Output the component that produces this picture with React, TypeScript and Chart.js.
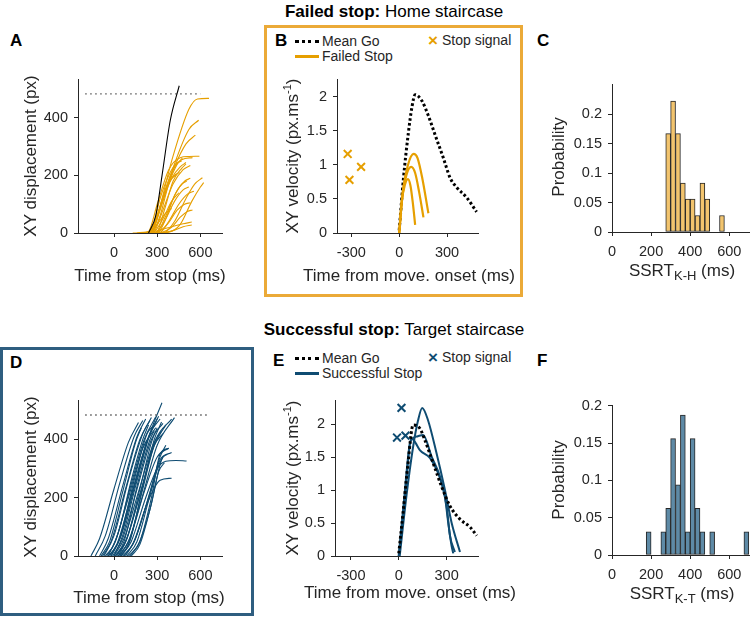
import React, { useEffect, useRef } from "react";
import { Chart, registerables } from "chart.js";
Chart.register(...registerables);

const FONT = "'Liberation Sans', Arial, Helvetica, sans-serif";
const INK = "#262626";
const ORANGE = "#E69F00";
const BLUE = "#0F4C72";
const ORANGE_BOX = "#EBAA38";
const BLUE_BOX = "#2F5E80";
const ORANGE_BAR = "#F2C46E";
const BLUE_BAR = "#5E8AA6";

// ---------- tick labels ----------
const dispXTicks = [0, 300, 600];
const dispYTicks = [0, 200, 400];
const velXTicks = [-300, 0, 300];
const velYTicks = [0, 0.5, 1, 1.5, 2];
const ssrtXTicks = [0, 200, 400, 600];
const probYTicks = [0, 0.05, 0.1, 0.15, 0.2];

// ---------- Panel A: failed stop displacement (time ms, px) ----------
const aTargetLine = [[-200, 484], [600, 484]];
const aGoTrace = [[240, 0], [290, 60], [333, 198], [391, 392], [453, 512]];
const aFailedTraces = [
  [[180, 0], [240, 2], [300, 60], [400, 250], [520, 430], [580, 466], [660, 468]],
  [[200, 0], [260, 5], [320, 80], [420, 240], [520, 360], [588, 392]],
  [[220, 0], [250, 3], [320, 90], [420, 230], [500, 310], [565, 340]],
  [[210, 0], [240, 5], [300, 100], [380, 220], [460, 262], [520, 266], [593, 267]],
  [[230, 0], [270, 10], [330, 110], [400, 210], [470, 255], [545, 262]],
  [[300, 0], [350, 2], [420, 40], [500, 120], [560, 170], [614, 192]],
  [[300, 0], [380, 3], [460, 30], [540, 110], [600, 160], [623, 175]],
  [[220, 0], [260, 8], [320, 120], [380, 200], [430, 240], [470, 250]],
  [[240, 0], [270, 8], [330, 100], [400, 190], [460, 230], [500, 245]],
  [[250, 0], [280, 6], [340, 80], [410, 170], [480, 220], [530, 235]],
  [[200, 0], [250, 6], [300, 60], [360, 150], [420, 200], [455, 210]],
  [[260, 0], [300, 4], [360, 60], [430, 140], [490, 180], [530, 190]],
  [[260, 0], [290, 2], [350, 40], [420, 110], [480, 150], [520, 160]],
  [[280, 0], [320, 2], [380, 40], [450, 100], [510, 135], [555, 145]],
  [[270, 0], [300, 2], [370, 30], [440, 80], [490, 100], [530, 105]],
  [[300, 0], [330, 2], [400, 20], [460, 55], [510, 75], [545, 80]],
  [[130, 0], [250, 3], [300, 30], [360, 70], [400, 85]],
  [[160, 0], [300, 8], [400, 22], [480, 32], [540, 38]],
  [[320, 0], [350, 2], [420, 10], [480, 22], [540, 28]],
  [[270, 0], [310, 4], [360, 50], [420, 130], [470, 170], [505, 180]],
  [[250, 0], [280, 4], [340, 50], [400, 110], [450, 140]],
  [[200, 0], [240, 4], [290, 40], [350, 140], [400, 190], [430, 200]],
  [[230, 0], [270, 5], [320, 60], [380, 170], [440, 240], [475, 260]],
  [[260, 0], [300, 6], [350, 80], [410, 180], [470, 225], [500, 240]],
];

// ---------- Panel B: failed stop velocity (ms, px/ms) ----------
const bMeanGo = [[0, 0.04], [27, 0.81], [58, 1.48], [80, 1.85], [100, 2.03], [142, 1.94], [183, 1.72], [225, 1.44], [277, 1.1], [319, 0.81], [360, 0.67], [423, 0.52], [485, 0.31]];
const bFailed1 = [[0, 0], [15, 0.45], [35, 0.7], [55, 0.79], [70, 0.7], [85, 0.45], [100, 0.12]];
const bFailed2 = [[0, 0], [20, 0.55], [45, 0.85], [75, 0.97], [100, 0.88], [125, 0.6], [152, 0.23]];
const bFailed3 = [[0, 0], [25, 0.65], [55, 1.0], [90, 1.16], [115, 1.1], [145, 0.8], [183, 0.29]];
const bStopSignals = [[-323, 1.16], [-312, 0.78], [-239, 0.97]];

// ---------- Panel C: SSRT K-H histogram (bin centre ms, probability) ----------
const cBinCentres = [287.5, 312.5, 337.5, 362.5, 387.5, 412.5, 437.5, 462.5, 487.5, 562.5];
const cProbs = [0.167, 0.222, 0.167, 0.083, 0.056, 0.056, 0.028, 0.083, 0.056, 0.028];

// ---------- Panel D: successful stop displacement ----------
const dTargetLine = [[-200, 484], [660, 484]];
const dSuccessTraces = [
  [[-160, 0], [-100, 60], [0, 230], [100, 390], [170, 458]],
  [[-130, 0], [-60, 70], [40, 250], [140, 410], [200, 465]],
  [[-100, 0], [-40, 60], [60, 240], [160, 410], [220, 470]],
  [[-80, 0], [-20, 50], [80, 230], [180, 400], [250, 465]],
  [[-70, 0], [0, 70], [100, 260], [200, 420], [260, 475]],
  [[-50, 0], [10, 50], [110, 230], [210, 400], [290, 478]],
  [[-40, 0], [20, 40], [120, 210], [220, 380], [300, 470]],
  [[-30, 0], [40, 60], [140, 240], [240, 410], [310, 480]],
  [[-20, 0], [50, 70], [150, 250], [250, 420], [320, 470]],
  [[-10, 0], [60, 60], [160, 230], [260, 400], [340, 455]],
  [[0, 0], [70, 60], [170, 220], [270, 380], [330, 430]],
  [[10, 0], [80, 50], [180, 210], [280, 380], [360, 450]],
  [[20, 0], [90, 60], [190, 230], [290, 400], [400, 470]],
  [[30, 0], [100, 50], [200, 210], [300, 380], [420, 475]],
  [[40, 0], [110, 60], [210, 220], [300, 340], [380, 370]],
  [[50, 0], [120, 50], [220, 200], [300, 300], [360, 325], [430, 328], [504, 326]],
  [[60, 0], [130, 40], [230, 180], [320, 260], [400, 267]],
  [[70, 0], [140, 50], [240, 200], [320, 330], [400, 355]],
  [[80, 0], [150, 60], [250, 220], [320, 340], [360, 380]],
  [[90, 0], [160, 50], [240, 190], [310, 310], [340, 340]],
  [[100, 0], [170, 40], [250, 160], [310, 290], [350, 320]],
  [[110, 0], [180, 50], [260, 200], [320, 350], [380, 370]],
  [[-60, 0], [0, 40], [100, 200], [200, 370], [290, 440]],
  [[0, 0], [60, 70], [150, 240], [250, 420], [333, 526]],
  [[30, 0], [90, 60], [180, 230], [260, 390], [300, 440]],
  [[-20, 0], [40, 60], [140, 260], [230, 420], [270, 445]],
  [[-90, 0], [-30, 50], [60, 220], [150, 390], [190, 440]],
  [[10, 0], [70, 50], [170, 260], [250, 400], [280, 430]],
  [[50, 0], [110, 50], [200, 240], [280, 400], [330, 460]],
  [[120, 0], [180, 40], [260, 180], [330, 330], [370, 350]],
  [[40, 0], [100, 40], [200, 230], [280, 380], [340, 420]],
  [[-40, 0], [30, 80], [120, 260], [200, 400], [240, 450]],
];

// ---------- Panel E: successful stop velocity ----------
const eMeanGo = [[0, 0.04], [27, 0.66], [58, 1.41], [90, 1.99], [132, 1.94], [164, 1.76], [216, 1.41], [268, 1.06], [321, 0.76], [384, 0.56], [447, 0.44], [489, 0.31]];
const eSuccess1 = [[6, 0], [48, 0.91], [90, 1.66], [120, 2.05], [147, 2.25], [184, 2.06], [237, 1.56], [289, 1.01], [331, 0.51], [384, 0.06]];
const eSuccess2 = [[0, 0], [35, 0.9], [69, 1.7], [95, 1.8], [120, 1.82], [153, 1.84], [206, 1.51], [258, 1.21], [300, 0.76], [321, 0.31], [352, 0.06]];
const eSuccess3 = [[0, 0], [40, 0.95], [80, 1.79], [105, 1.72], [132, 1.61], [195, 1.49], [247, 1.26], [289, 0.91], [310, 0.51], [331, 0.16], [342, 0.04]];
const eStopSignals = [[17, 2.25], [-11, 1.8], [42, 1.83]];

// ---------- Panel F: SSRT K-T histogram ----------
const fBinCentres = [187.5, 262.5, 287.5, 312.5, 337.5, 362.5, 387.5, 412.5, 437.5, 462.5, 512.5, 687.5];
const fProbs = [0.031, 0.031, 0.0625, 0.156, 0.094, 0.1875, 0.031, 0.156, 0.0625, 0.031, 0.031, 0.031];

// ---------- helpers ----------
const YW = 60;
const PT = 12;
const XH = 34;

const toXY = (pairs: number[][]) => pairs.map(([x, y]) => ({ x, y }));
const zipXY = (xs: number[], ys: number[]) => xs.map((x, i) => ({ x, y: ys[i] }));

function lineDs(pairs: number[][], color: string, width: number, extra: any = {}) {
  return {
    type: "line",
    data: toXY(pairs),
    borderColor: color,
    backgroundColor: color,
    borderWidth: width,
    pointRadius: 0,
    fill: false,
    cubicInterpolationMode: "monotone",
    ...extra,
  };
}

function markerDs(pairs: number[][], color: string) {
  return {
    type: "line",
    data: toXY(pairs),
    showLine: false,
    pointStyle: "crossRot",
    pointRadius: 5.5,
    pointBorderWidth: 2,
    borderColor: color,
    pointBorderColor: color,
    backgroundColor: color,
  };
}

function barDs(xs: number[], ys: number[], color: string) {
  return {
    type: "bar",
    data: zipXY(xs, ys),
    backgroundColor: color,
    borderColor: INK,
    borderWidth: 1,
    borderSkipped: false,
    barPercentage: 1,
    categoryPercentage: 1,
    grouped: false,
  };
}

function axis(dir: "x" | "y", min: number, max: number, ticks: number[], pad: number) {
  return {
    type: "linear",
    min,
    max,
    offset: false,
    afterBuildTicks: (ax: any) => {
      ax.ticks = ticks.map((v) => ({ value: v }));
    },
    afterFit: (ax: any) => {
      if (dir === "y") ax.width = YW;
      else ax.height = XH;
    },
    grid: { display: true, drawOnChartArea: false, drawTicks: true, tickLength: 4, color: INK, offset: false },
    border: { display: true, color: INK, width: 1 },
    ticks: {
      color: INK,
      font: { family: FONT, size: 14.5 },
      padding: pad,
      autoSkip: false,
      maxRotation: 0,
      minRotation: 0,
      callback: (v: any) => String(v),
    },
  };
}

type Geo = {
  x0: number; x1: number; yT: number; yB: number; padR: number;
  xMin: number; xMax: number; yMax: number; xTicks: number[]; yTicks: number[];
};

function Panel({ g, type, datasets }: { g: Geo; type: string; datasets: any[] }) {
  const ref = useRef<HTMLCanvasElement>(null);
  const W = Math.round(YW + (g.x1 - g.x0) + g.padR);
  const H = Math.round(PT + (g.yB - g.yT) + XH);
  useEffect(() => {
    const chart = new Chart(ref.current as any, {
      type: type as any,
      data: { datasets },
      options: {
        responsive: false,
        animation: false,
        events: [],
        layout: { padding: { top: PT, right: g.padR, left: 0, bottom: 0 } },
        plugins: { legend: { display: false }, tooltip: { enabled: false } },
        scales: {
          x: axis("x", g.xMin, g.xMax, g.xTicks, 7) as any,
          y: axis("y", 0, g.yMax, g.yTicks, 6) as any,
        },
      } as any,
    });
    return () => chart.destroy();
  }, []);
  return (
    <canvas
      ref={ref}
      width={W}
      height={H}
      style={{ position: "absolute", left: g.x0 - YW, top: g.yT - PT, width: W, height: H }}
    />
  );
}

function Label({ x, y, size = 17, rot = false, left = false, bold = false, color = INK, children }: any) {
  return (
    <div
      style={{
        position: "absolute",
        left: x,
        top: y,
        transform: `translate(${left ? "0" : "-50%"}, -50%)${rot ? " rotate(-90deg)" : ""}`,
        fontFamily: FONT,
        fontSize: size,
        fontWeight: bold ? 700 : 400,
        color,
        whiteSpace: "nowrap",
        lineHeight: 1,
      }}
    >
      {children}
    </div>
  );
}

const sup = { fontSize: 11, verticalAlign: "super", lineHeight: 0 } as any;
const sub = { fontSize: 13, verticalAlign: "sub", lineHeight: 0 } as any;

function Legend({ y, color, second }: { y: number; color: string; second: string }) {
  return (
    <>
      <div style={{ position: "absolute", left: 295, top: y - 1.5, width: 24, height: 0, borderTop: "3px dotted #000" }} />
      <Label x={322} y={y} size={14} left>Mean Go</Label>
      <div style={{ position: "absolute", left: 295, top: y + 14, width: 24, height: 2.5, background: color }} />
      <Label x={322} y={y + 15} size={14} left>{second}</Label>
      <Label x={428} y={y - 1} size={17} bold left color={color}>×</Label>
      <Label x={442} y={y - 1} size={14} left>Stop signal</Label>
    </>
  );
}

// ---------- geometry of each panel (page pixels) ----------
const geoA: Geo = { x0: 78, x1: 222, yT: 77, yB: 233, padR: 20, xMin: -250, xMax: 750, yMax: 533, xTicks: dispXTicks, yTicks: dispYTicks };
const geoD: Geo = { x0: 78, x1: 222, yT: 398, yB: 556, padR: 20, xMin: -250, xMax: 750, yMax: 533, xTicks: dispXTicks, yTicks: dispYTicks };
const geoB: Geo = { x0: 337, x1: 478, yT: 77, yB: 233, padR: 20, xMin: -390, xMax: 494, yMax: 2.25, xTicks: velXTicks, yTicks: velYTicks };
const geoE: Geo = { x0: 335, x1: 478, yT: 398, yB: 556, padR: 20, xMin: -400, xMax: 497, yMax: 2.36, xTicks: velXTicks, yTicks: velYTicks };
const geoC: Geo = { x0: 612, x1: 750, yT: 82, yB: 232, padR: 0, xMin: 0, xMax: 706, yMax: 0.25, xTicks: ssrtXTicks, yTicks: probYTicks };
const geoF: Geo = { x0: 612, x1: 750, yT: 403, yB: 555, padR: 0, xMin: 0, xMax: 706, yMax: 0.2, xTicks: ssrtXTicks, yTicks: probYTicks };

export default function App() {
  const dotted = { borderDash: [1.5, 3.5], cubicInterpolationMode: "default", tension: 0 };
  const goDots = { borderDash: [2.6, 2.4], borderCapStyle: "butt" };

  const dsA = [
    lineDs(aGoTrace, "#000", 1.1),
    lineDs(aTargetLine, "#555", 1.3, dotted),
    ...aFailedTraces.map((t) => lineDs(t, ORANGE, 1.1)),
  ];
  const dsB = [
    markerDs(bStopSignals, ORANGE),
    lineDs(bFailed1, ORANGE, 2.2),
    lineDs(bFailed2, ORANGE, 2.2),
    lineDs(bFailed3, ORANGE, 2.2),
    lineDs(bMeanGo, "#000", 3, goDots),
  ];
  const dsC = [barDs(cBinCentres, cProbs, ORANGE_BAR)];
  const dsD = [
    lineDs(dTargetLine, "#555", 1.3, dotted),
    ...dSuccessTraces.map((t) => lineDs(t, BLUE, 1.1)),
  ];
  const dsE = [
    markerDs(eStopSignals, BLUE),
    lineDs(eMeanGo, "#000", 3, goDots),
    lineDs(eSuccess1, BLUE, 2),
    lineDs(eSuccess2, BLUE, 2),
    lineDs(eSuccess3, BLUE, 2),
  ];
  const dsF = [barDs(fBinCentres, fProbs, BLUE_BAR)];

  return (
    <div style={{ position: "absolute", left: 0, top: 0, width: 750, height: 618, background: "#fff", overflow: "hidden", fontFamily: FONT }}>
      {/* frames */}
      <div style={{ position: "absolute", left: 264, top: 25, width: 259, height: 272, border: `3px solid ${ORANGE_BOX}`, boxSizing: "border-box" }} />
      <div style={{ position: "absolute", left: 0, top: 347, width: 254, height: 269, border: `3px solid ${BLUE_BOX}`, boxSizing: "border-box" }} />

      {/* titles */}
      <Label x={394} y={11} size={17} color="#000"><b>Failed stop:</b> Home staircase</Label>
      <Label x={394} y={329} size={17} color="#000"><b>Successful stop:</b> Target staircase</Label>

      {/* panel letters */}
      <Label x={10} y={40} bold left color="#000">A</Label>
      <Label x={275} y={40} bold left color="#000">B</Label>
      <Label x={537} y={40} bold left color="#000">C</Label>
      <Label x={10} y={362} bold left color="#000">D</Label>
      <Label x={273} y={360} bold left color="#000">E</Label>
      <Label x={537} y={360} bold left color="#000">F</Label>

      <Panel g={geoA} type="line" datasets={dsA} />
      <Panel g={geoB} type="line" datasets={dsB} />
      <Panel g={geoC} type="bar" datasets={dsC} />
      <Panel g={geoD} type="line" datasets={dsD} />
      <Panel g={geoE} type="line" datasets={dsE} />
      <Panel g={geoF} type="bar" datasets={dsF} />

      {/* axis titles */}
      <Label x={30} y={156} rot>XY displacement (px)</Label>
      <Label x={150} y={275}>Time from stop (ms)</Label>
      <Label x={292} y={156} rot>XY velocity (px.ms<span style={sup}>-1</span>)</Label>
      <Label x={409} y={275}>Time from move. onset (ms)</Label>
      <Label x={558} y={157} rot>Probability</Label>
      <Label x={682} y={270}>SSRT<span style={sub}>K-H</span> (ms)</Label>

      <Label x={30} y={477} rot>XY displacement (px)</Label>
      <Label x={149} y={597}>Time from stop (ms)</Label>
      <Label x={292} y={478} rot>XY velocity (px.ms<span style={sup}>-1</span>)</Label>
      <Label x={410} y={592}>Time from move. onset (ms)</Label>
      <Label x={558} y={480} rot>Probability</Label>
      <Label x={682} y={593}>SSRT<span style={sub}>K-T</span> (ms)</Label>

      {/* legends */}
      <Legend y={41} color={ORANGE} second="Failed Stop" />
      <Legend y={358} color={BLUE} second="Successful Stop" />
    </div>
  );
}
